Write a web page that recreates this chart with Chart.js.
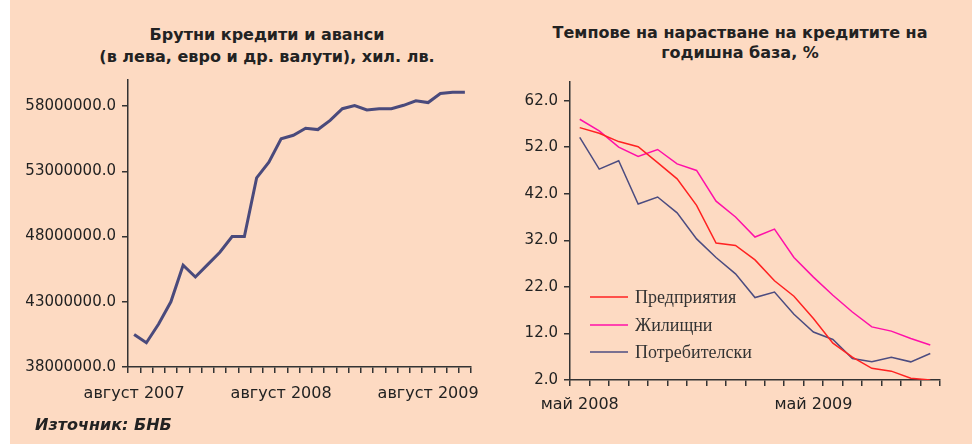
<!DOCTYPE html>
<html>
<head>
<meta charset="utf-8">
<script src="https://cdn.jsdelivr.net/npm/chart.js@4"></script>
<style>
    body { margin: 0; background: #fff; }
    #page { position: relative; width: 972px; height: 444px; overflow: hidden; background: #fff; }
    #panel { position: absolute; left: 10px; top: 0; width: 962px; height: 444px; background: #fddac2; }
    .title { position: absolute; font-family: "DejaVu Sans", sans-serif; font-weight: bold; font-size: 16px;
             color: #222; text-align: center; white-space: nowrap; }
    #source { position: absolute; left: 35px; top: 415px; font-family: "DejaVu Sans", sans-serif;
              font-weight: bold; font-style: italic; font-size: 16px; color: #222; }
    canvas { position: absolute; top: 0; }
</style>
</head>
<body>
<div id="page">
    <div id="panel"></div>
    <div class="title" style="left:67px; width:400px; top:24px; line-height:22px;">Брутни кредити и аванси<br>(в лева, евро и др. валути), хил. лв.</div>
    <div class="title" style="left:540px; width:400px; top:23px; line-height:20px;">Темпове на нарастване на кредитите на<br>годишна база, %</div>
    <canvas id="loansChart" width="490" height="444" style="left:0"></canvas>
    <canvas id="growthChart" width="482" height="444" style="left:490px"></canvas>
    <div id="source">Източник: БНБ</div>
</div>
<script>
// Left chart: gross loans, thousand BGN, Aug 2007 - Nov 2009
const loanMonths = [
    'август 2007', 'септември 2007', 'октомври 2007', 'ноември 2007', 'декември 2007',
    'януари 2008', 'февруари 2008', 'март 2008', 'април 2008', 'май 2008', 'юни 2008', 'юли 2008',
    'август 2008', 'септември 2008', 'октомври 2008', 'ноември 2008', 'декември 2008',
    'януари 2009', 'февруари 2009', 'март 2009', 'април 2009', 'май 2009', 'юни 2009', 'юли 2009',
    'август 2009', 'септември 2009', 'октомври 2009', 'ноември 2009'
];
const grossLoans = [
    40500000, 39860000, 41290000, 43000000, 45800000, 44900000, 45850000, 46800000,
    48000000, 48000000, 52500000, 53700000, 55500000, 55760000, 56300000, 56200000,
    56900000, 57800000, 58040000, 57700000, 57800000, 57800000, 58060000, 58400000,
    58270000, 58960000, 59060000, 59060000
];
const loanTicks = [38000000, 43000000, 48000000, 53000000, 58000000];

// Right chart: annual growth rates, %, May 2008 - Nov 2009
const growthMonths = [
    'май 2008', 'юни 2008', 'юли 2008', 'август 2008', 'септември 2008', 'октомври 2008',
    'ноември 2008', 'декември 2008', 'януари 2009', 'февруари 2009', 'март 2009', 'април 2009',
    'май 2009', 'юни 2009', 'юли 2009', 'август 2009', 'септември 2009', 'октомври 2009', 'ноември 2009'
];
const corporate = [56.2, 55.0, 53.2, 52.1, 48.7, 45.2, 39.5, 31.4, 30.9, 27.8, 23.3, 20.0, 15.2, 9.9, 6.9, 4.5, 3.9, 2.4, 2.0];
const housing = [58.0, 55.5, 52.0, 50.0, 51.5, 48.4, 47.0, 40.4, 37.0, 32.7, 34.4, 28.3, 24.1, 20.2, 16.6, 13.4, 12.5, 10.9, 9.5];
const consumer = [54.1, 47.3, 49.1, 39.8, 41.3, 37.9, 32.3, 28.3, 24.8, 19.7, 20.9, 16.1, 12.3, 10.7, 6.6, 5.9, 6.9, 5.9, 7.7];
const growthTicks = [2, 12, 22, 32, 42, 52, 62];

const axisColor = '#333';
const tickFont = { family: 'DejaVu Sans', size: 15 };

// shared axis setup: ticks outside only, category ticks between months
function xAxis(labelEvery, labelPad) {
    return {
        offset: true,
        border: { color: axisColor, width: 1.5 },
        grid: { offset: true, drawOnChartArea: false, color: axisColor, lineWidth: 1.5, tickLength: 6 },
        ticks: {
            autoSkip: false, maxRotation: 0, padding: labelPad, color: '#222',
            font: { family: 'DejaVu Sans', size: 16 },
            callback: function (value, index) {
                return index % labelEvery === 0 ? this.getLabelForValue(value) : '';
            }
        },
        afterFit: scale => { scale.height = 40; }
    };
}

function yAxis(min, max, tickValues, width) {
    return {
        min: min,
        max: max,
        border: { color: axisColor, width: 1.5 },
        grid: { drawOnChartArea: false, color: axisColor, lineWidth: 1.5, tickLength: 6 },
        ticks: { padding: 6, color: '#222', font: tickFont, callback: value => value.toFixed(1) },
        afterBuildTicks: scale => { scale.ticks = tickValues.map(v => ({ value: v })); },
        afterFit: scale => { scale.width = width; }
    };
}

new Chart(document.getElementById('loansChart'), {
    type: 'line',
    data: {
        labels: loanMonths,
        datasets: [{
            data: grossLoans,
            borderColor: '#4a4a7c',
            borderWidth: 3,
            pointRadius: 0,
            tension: 0
        }]
    },
    options: {
        responsive: false,
        animation: false,
        devicePixelRatio: 1,
        layout: { padding: { top: 80, right: 19, bottom: 37, left: 0 } },
        plugins: { legend: { display: false }, tooltip: { enabled: false } },
        scales: {
            x: xAxis(12, 11),
            y: yAxis(38000000, 60000000, loanTicks, 128)
        }
    }
});

// legend drawn inside the plot area, lower left
const innerLegend = {
    id: 'innerLegend',
    afterDraw(chart) {
        const { ctx, chartArea } = chart;
        const rows = [83, 55, 28];
        ctx.save();
        ctx.font = '18px "Liberation Serif", serif';
        ctx.textBaseline = 'middle';
        chart.data.datasets.forEach((ds, i) => {
            const y = chartArea.bottom - rows[i];
            const x = chartArea.left + 20;
            ctx.strokeStyle = ds.borderColor;
            ctx.lineWidth = 1.5;
            ctx.beginPath();
            ctx.moveTo(x, y);
            ctx.lineTo(x + 38, y);
            ctx.stroke();
            ctx.fillStyle = '#333';
            ctx.fillText(ds.label, x + 45, y + 1);
        });
        ctx.restore();
    }
};

new Chart(document.getElementById('growthChart'), {
    type: 'line',
    data: {
        labels: growthMonths,
        datasets: [
            { label: 'Предприятия', data: corporate, borderColor: '#ff2222' },
            { label: 'Жилищни', data: housing, borderColor: '#ff10a8' },
            { label: 'Потребителски', data: consumer, borderColor: '#4c4c80' }
        ].map(ds => Object.assign(ds, { borderWidth: 1.5, pointRadius: 0, tension: 0 }))
    },
    options: {
        responsive: false,
        animation: false,
        devicePixelRatio: 1,
        layout: { padding: { top: 82, right: 32, bottom: 24, left: 0 } },
        plugins: { legend: { display: false }, tooltip: { enabled: false } },
        scales: {
            x: xAxis(12, 9),
            y: yAxis(2, 66, growthTicks, 80)
        }
    },
    plugins: [innerLegend]
});
</script>
</body>
</html>
